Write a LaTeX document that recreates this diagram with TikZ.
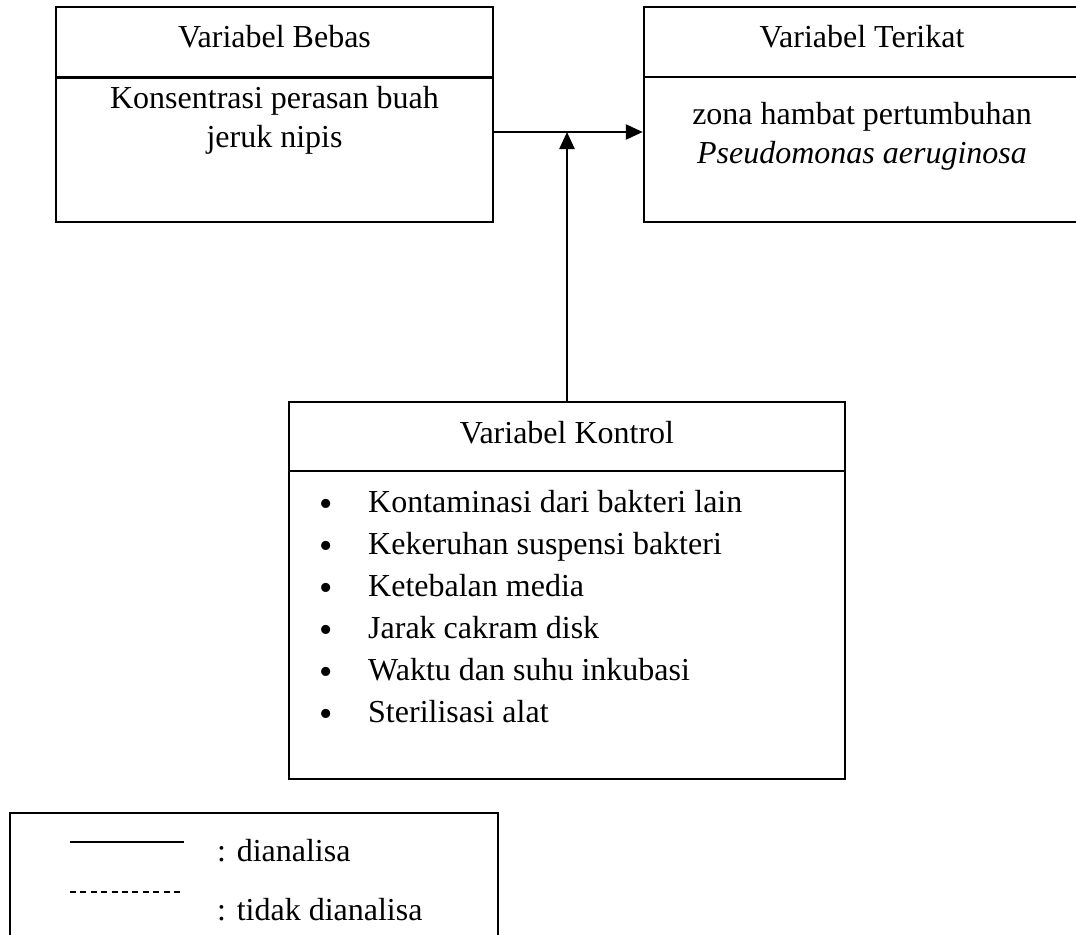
\documentclass[tikz,border=0pt]{standalone}
\usepackage{fontspec}
\setmainfont{Liberation Serif}
\usetikzlibrary{arrows.meta}
\begin{document}
\begin{tikzpicture}[x=1bp,y=-1bp,
  box/.style={draw, line width=2.5bp, rectangle, inner sep=0pt},
  lbox/.style={draw, line width=2bp, rectangle, inner sep=0pt},
  txt/.style={anchor=base, inner sep=0pt, font=\fontsize{32bp}{38bp}\selectfont},
  ltxt/.style={txt, anchor=base west},
  bul/.style={anchor=base, inner sep=0pt, font=\fontsize{38bp}{44bp}\selectfont},
  arr/.style={line width=2.5bp, -{Triangle[length=17bp,width=15bp]}},
  sepline/.style={line width=2.5bp},
  solidleg/.style={line width=1.5bp},
  dashleg/.style={line width=1.2bp, dash pattern=on 6bp off 4.4bp}]
\useasboundingbox (0,0) rectangle (1076,935);
\fill[white] (0,0) rectangle (1076,935);

% boxes
\node[box, minimum width=437bp, minimum height=215bp] (b1) at (274.5,114.5) {};
\node[box, minimum width=436bp, minimum height=215bp] (b2) at (862,114.5) {};
\node[box, minimum width=556bp, minimum height=377bp] (b3) at (567,590.5) {};
\node[lbox, minimum width=488bp, minimum height=132bp] (lg) at (254,879) {};

% header separators
\coordinate (h1) at (0,77.5);
\coordinate (h2) at (0,77);
\coordinate (h3) at (0,471);
\draw[sepline] (b1.west |- h1) -- (b1.east |- h1);
\draw[sepline] (b2.west |- h2) -- (b2.east |- h2);
\draw[sepline] (b3.west |- h3) -- (b3.east |- h3);

% texts box 1
\node[txt] (t1) at (274.5,47) {Variabel Bebas};
\node[txt] (t1a) at (274.5,108) {Konsentrasi perasan buah};
\node[txt] (t1b) at (274.5,147) {jeruk nipis};

% texts box 2
\node[txt] (t2) at (862,47) {Variabel Terikat};
\node[txt] (t2a) at (862,124) {zona hambat pertumbuhan};
\node[txt] (t2b) at (862,163) {\itshape Pseudomonas aeruginosa};

% texts box 3
\node[txt] (t3) at (567,443) {Variabel Kontrol};
\foreach \i/\yy/\s in {1/512/Kontaminasi dari bakteri lain,
                       2/554/Kekeruhan suspensi bakteri,
                       3/596/Ketebalan media,
                       4/638/Jarak cakram disk,
                       5/680/Waktu dan suhu inkubasi,
                       6/722/Sterilisasi alat}{
  \node[bul] (bl\i) at (326,\yy+4.5) {•};
  \node[ltxt] (li\i) at (368,\yy) {\s};
}

% connectors
\coordinate (j) at (567,132);
\draw[arr] (b1.east |- j) -- (b2.west |- j);
\draw[arr] (b3.north) -- (j);

% legend
\coordinate (s1) at (70,842);
\coordinate (s2) at (184,842);
\coordinate (d1) at (70,892);
\coordinate (d2) at (184,892);
\draw[solidleg] (s1) -- (s2);
\draw[dashleg] (d1) -- (d2);
\node[ltxt] (lt1) at (217,861) {: dianalisa};
\node[ltxt] (lt2) at (217,920) {: tidak dianalisa};
\end{tikzpicture}
\end{document}
